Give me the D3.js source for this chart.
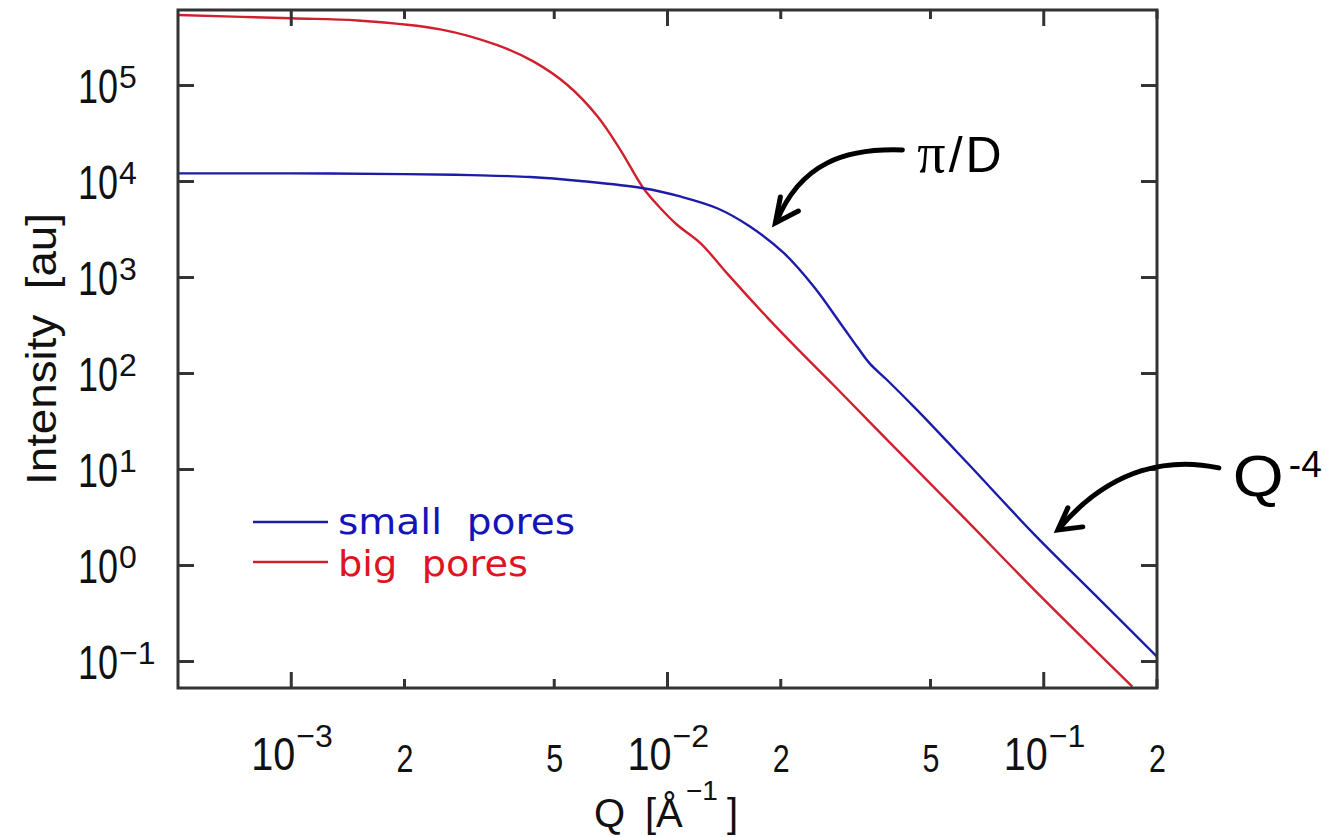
<!DOCTYPE html>
<html><head><meta charset="utf-8">
<script src="https://cdn.jsdelivr.net/npm/d3@7"></script>
<style>body{margin:0;background:#fff}</style>
</head><body>
<svg id="c" width="1327" height="837"></svg>
<script>
// ---- data ----
const qSmall = [5e-4, 1e-3, 2e-3, 3e-3, 4.32e-3, 5.87e-3, 8.63e-3, 1.08e-2, 1.355e-2, 1.66e-2, 2.04e-2, 2.45e-2, 2.88e-2, 3.2e-2, 3.45e-2, 3.84e-2, 4.61e-2, 6.26e-2, 9.42e-2, 0.136, 0.2];
const iSmall = [1.2e4, 1.2e4, 1.18e4, 1.15e4, 1.1e4, 1.0e4, 8.4e3, 6.9e3, 5.2e3, 3.34e3, 1.77e3, 790, 330, 185, 125, 84, 41, 11.6, 2.1, 0.5, 0.111];
const qBig = [5e-4, 1e-3, 1.5e-3, 2.49e-3, 3.53e-3, 4.41e-3, 5.42e-3, 6.52e-3, 7.5e-3, 8.63e-3, 9.58e-3, 1.06e-2, 1.225e-2, 1.44e-2, 1.84e-2, 2.26e-2, 2.77e-2, 4.0e-2, 6.0e-2, 9.82e-2, 0.172];
const iBig = [5.35e5, 4.95e5, 4.7e5, 3.8e5, 2.6e5, 1.75e5, 1.0e5, 4.7e4, 2.1e4, 8.4e3, 5.2e3, 3.5e3, 2.24e3, 1.09e3, 380, 165, 74, 17, 3.4, 0.47, 0.054];
const seriesNames = ["small\u00a0 pores", "big\u00a0 pores"];
const xMajorTicks = [1e-3, 1e-2, 1e-1];
const xMajorExp = ["−3", "−2", "−1"];
const xMinorTicks = [2e-3, 5e-3, 2e-2, 5e-2, 2e-1];
const xMinorLabels = ["2", "5", "2", "5", "2"];
const yTicks = [1e-1, 1, 10, 100, 1e3, 1e4, 1e5];
const yExp = ["−1", "0", "1", "2", "3", "4", "5"];
const xDomain = [5e-4, 0.2];
const yDomain = [0.0523, 6.04e5];
// annotation anchors (data space): [Q, I]
const annPiD = [1.935e-2, 3650];
const annQ4 = [0.109, 2.32];

// ---- layout ----
const L = 178, R = 1157, T = 10, B = 688;
const svg = d3.select("#c");
const x = d3.scaleLog().domain(xDomain).range([L, R]);
const y = d3.scaleLog().domain(yDomain).range([B, T]);
const blueLine = "#1c1ca8", redLine = "#d0202e";
const blueText = "#1414b8", redText = "#e01420";
const tickFont = "'Liberation Sans',Arial,sans-serif";

svg.append("rect").attr("width", 1327).attr("height", 837).attr("fill", "#fff");

svg.append("clipPath").attr("id", "clip").append("rect")
  .attr("x", L).attr("y", T).attr("width", R - L).attr("height", B - T);

// curves
const line = d3.line().x(d => x(d[0])).y(d => y(d[1])).curve(d3.curveCatmullRom.alpha(0.5));
const gCurves = svg.append("g").attr("clip-path", "url(#clip)");
gCurves.append("path").datum(d3.zip(qBig, iBig)).attr("d", line)
  .attr("fill", "none").attr("stroke", redLine).attr("stroke-width", 2.4);
gCurves.append("path").datum(d3.zip(qSmall, iSmall)).attr("d", line)
  .attr("fill", "none").attr("stroke", blueLine).attr("stroke-width", 2.4);

// axes (ticks inside)
const axCol = "#333";
function tickLines(g, vals, len, dir) {
  g.selectAll(null).data(vals).enter().append("line")
    .attr("x1", d => x(d)).attr("x2", d => x(d))
    .attr("y1", 0).attr("y2", dir * len)
    .attr("stroke", axCol).attr("stroke-width", 3);
}
const gb = svg.append("g").attr("transform", `translate(0,${B})`);
tickLines(gb, xMajorTicks, 16, -1); tickLines(gb, xMinorTicks, 9, -1);
const gt = svg.append("g").attr("transform", `translate(0,${T})`);
tickLines(gt, xMajorTicks, 16, 1); tickLines(gt, xMinorTicks, 9, 1);
const left = d3.axisLeft(y).tickValues(yTicks).tickSize(-16).tickFormat("").tickSizeOuter(0);
const right = d3.axisRight(y).tickValues(yTicks).tickSize(-16).tickFormat("").tickSizeOuter(0);
const gl = svg.append("g").attr("transform", `translate(${L},0)`).call(left);
const gr = svg.append("g").attr("transform", `translate(${R},0)`).call(right);
[gl, gr].forEach(g => { g.select(".domain").remove(); g.selectAll("line").attr("stroke", axCol).attr("stroke-width", 3); });

// frame
svg.append("rect").attr("x", L).attr("y", T).attr("width", R - L).attr("height", B - T)
  .attr("fill", "none").attr("stroke", axCol).attr("stroke-width", 3);

// condensed text helper: anchor at (px,py), horizontally squeezed by sx
function narrowText(px, py, size, sx, str) {
  return svg.append("text").attr("transform", `translate(${px},${py}) scale(${sx},1)`)
    .attr("font-family", tickFont).attr("font-size", size).attr("fill", "#111").text(str);
}
// y tick labels
yTicks.forEach((v, i) => {
  narrowText(78, y(v) + 18, 48, 0.75, "10");
  svg.append("text").attr("x", 119).attr("y", y(v) + 3)
    .attr("font-family", tickFont).attr("font-size", 32).attr("fill", "#111").text(yExp[i]);
});
// x tick labels
xMajorTicks.forEach((v, i) => {
  narrowText(x(v) - 40, 770, 46, 0.86, "10");
  svg.append("text").attr("x", x(v) + 5).attr("y", 747)
    .attr("font-family", tickFont).attr("font-size", 32).attr("fill", "#111").text(xMajorExp[i]);
});
xMinorTicks.forEach((v, i) => {
  narrowText(x(v) - 8, 772, 38, 0.8, xMinorLabels[i]);
});

// axis titles
svg.append("text").attr("transform", `translate(56,349) rotate(-90)`).attr("text-anchor", "middle")
  .attr("font-family", "'Liberation Sans',Arial,sans-serif").attr("font-size", 42).attr("fill", "#111")
  .attr("textLength", 272).attr("lengthAdjust", "spacingAndGlyphs")
  .text("Intensity\u00a0\u00a0[au]");
const titleFont = { family: tickFont, size: 40 };
svg.append("text").attr("x", 594).attr("y", 827)
  .attr("font-family", titleFont.family).attr("font-size", titleFont.size).attr("fill", "#111").text("Q");
svg.append("text").attr("x", 645).attr("y", 827)
  .attr("font-family", titleFont.family).attr("font-size", titleFont.size).attr("fill", "#111").text("[Å");
svg.append("text").attr("x", 686).attr("y", 800)
  .attr("font-family", titleFont.family).attr("font-size", 28).attr("fill", "#111").text("−1");
svg.append("text").attr("x", 727).attr("y", 827)
  .attr("font-family", titleFont.family).attr("font-size", titleFont.size).attr("fill", "#111").text("]");

// legend
const legColors = [[blueLine, blueText], [redLine, redText]];
const legWidths = [237, 190];
seriesNames.forEach((n, i) => {
  const yy = 522 + i * 40;
  svg.append("line").attr("x1", 253).attr("x2", 328).attr("y1", yy).attr("y2", yy)
    .attr("stroke", legColors[i][0]).attr("stroke-width", 2.4);
  svg.append("text").attr("x", 338).attr("y", yy + 12 + i * 2)
    .attr("font-family", "'DejaVu Sans','Liberation Sans',sans-serif").attr("font-size", 35)
    .attr("fill", legColors[i][1]).attr("textLength", legWidths[i]).attr("lengthAdjust", "spacingAndGlyphs")
    .text(n);
});

// annotations
function arrow(tip, path, armA, armB) {
  const [tx, ty] = [x(tip[0]), y(tip[1])];
  const g = svg.append("g").attr("transform", `translate(${tx},${ty})`);
  g.append("path").attr("d", path).attr("fill", "none").attr("stroke", "#000")
    .attr("stroke-width", 5).attr("stroke-linecap", "round");
  g.append("path").attr("d", `M${armA[0]},${armA[1]} L0,0 L${armB[0]},${armB[1]}`)
    .attr("fill", "none").attr("stroke", "#000").attr("stroke-width", 5)
    .attr("stroke-linecap", "round").attr("stroke-linejoin", "miter");
  return [tx, ty];
}
const p1 = arrow(annPiD, "M127,-73 C70,-75 25,-60 1,-1", [5, -26], [23, -12]);
const t1 = svg.append("text").attr("x", p1[0] + 142).attr("y", p1[1] - 51)
  .attr("font-size", 50).attr("fill", "#000").attr("letter-spacing", 3);
t1.append("tspan").attr("font-family", "'Liberation Serif',serif").attr("font-size", 56).text("π");
t1.append("tspan").attr("font-family", "'Liberation Sans',Arial,sans-serif").text("/D");

const p2 = arrow(annQ4, "M161,-62 C115,-72 55,-65 1,-1", [10, -22], [25, -3]);
svg.append("text").attr("transform", `translate(${p2[0] + 175},${p2[1] - 34}) scale(1.13,1)`)
  .attr("font-family", "'Liberation Sans',Arial,sans-serif").attr("font-size", 58).attr("fill", "#000").text("Q");
svg.append("text").attr("x", p2[0] + 231).attr("y", p2[1] - 53)
  .attr("font-family", "'Liberation Sans',Arial,sans-serif").attr("font-size", 37).attr("fill", "#000").text("-4");
</script>
</body></html>
